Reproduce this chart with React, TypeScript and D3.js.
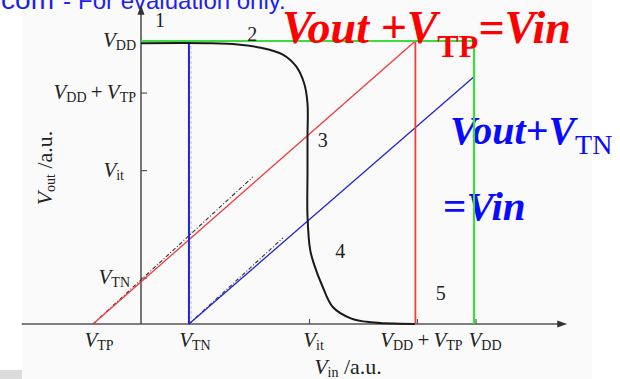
import React from 'react';
import * as d3 from 'd3';

// CMOS inverter voltage transfer characteristic (arbitrary units)
const W = 620;
const H = 379;

const VDD = 5;
const VTN = 0.72;
const VTP = -0.72;
const VIT_IN = 2.5;
const VDD_PLUS_VTP_IN = 4.12;

// Axis tick labels (markup: V italic, {..} subscript)
const xTickLabels = ['V{TP}', 'V{TN}', 'V{it}', 'V{DD}\u2009+\u2009V{TP}', 'V{DD}'];
const xTickValues = [VTP, VTN, VIT_IN, VDD_PLUS_VTP_IN, VDD];

const yTickLabels = ['V{DD}', 'V{DD}\u2009+\u2009V{TP}', 'V{it}', 'V{TN}'];
const yTickValues = [VDD, 4.08, 2.71, 0.81];

// Vout(Vin) transfer curve
const curveVin = [0, 1.0, 1.45, 1.8, 2.13, 2.33, 2.45, 2.5, 2.5, 2.5, 2.5, 2.54, 2.6, 2.72, 2.88, 3.15, 3.45, 4.11];
const curveVout = [4.96, 4.96, 4.94, 4.88, 4.76, 4.55, 4.25, 3.9, 3.3, 2.7, 1.9, 1.31, 1.05, 0.68, 0.3, 0.1, 0.03, 0];

// Vout + VTP = Vin  (PMOS saturation boundary)
const pLineVin = [VTP, VDD_PLUS_VTP_IN];
const pLineVout = [0, VDD];
// Vout + VTN = Vin  (NMOS saturation boundary)
const nLineVin = [VTN, VDD];
const nLineVout = [0, 4.37];
// dashed companions of the boundaries
const pGuideVin = [VTP, 1.68];
const pGuideVout = [0, 2.6];
const nGuideVin = [VTN, 2.13];
const nGuideVout = [0, 1.52];

// Operating region numbers
const regionLabels = ['1', '2', '3', '4', '5'];
const regionVin = [0.285, 1.67, 2.73, 2.99, 4.5];
const regionVout = [5.25, 5.0, 3.13, 1.17, 0.42];

const SERIF = '"Liberation Serif", "Times New Roman", Times, serif';
const SANS = '"Liberation Sans", Arial, Helvetica, sans-serif';

// right edge of each y tick label
const yLabelRight = [136, 136, 124, 130];

type Seg = { t: string; sub: boolean; italic: boolean };

function parseLabel(s: string): Seg[] {
  const segs: Seg[] = [];
  const re = /\{([^}]*)\}|([^{]+)/g;
  let m: RegExpExecArray | null;
  while ((m = re.exec(s))) {
    if (m[1] !== undefined) {
      segs.push({ t: m[1], sub: true, italic: false });
    } else {
      const runs = m[2].match(/V+|[^V]+/g) || [];
      runs.forEach((r) => segs.push({ t: r, sub: false, italic: r[0] === 'V' }));
    }
  }
  return segs;
}

function MathLabel({
  text,
  x,
  y,
  size = 21,
  subSize = 14,
  anchor = 'start',
  transform,
}: {
  text: string;
  x: number;
  y: number;
  size?: number;
  subSize?: number;
  anchor?: string;
  transform?: string;
}) {
  const segs = parseLabel(text);
  let shift = 0;
  return (
    <text
      x={x}
      y={y}
      textAnchor={anchor as any}
      fontFamily={SERIF}
      fontSize={size}
      fill="#222"
      transform={transform}
    >
      {segs.map((s, i) => {
        const target = s.sub ? 3 : 0;
        const dy = target - shift;
        shift = target;
        return (
          <tspan
            key={i}
            dy={dy}
            fontSize={s.sub ? subSize : size}
            fontStyle={s.italic ? 'italic' : 'normal'}
          >
            {s.t}
          </tspan>
        );
      })}
    </text>
  );
}

export default function App() {
  const x = d3.scaleLinear().domain([0, VDD]).range([141, 474]);
  const y = d3.scaleLinear().domain([0, VDD]).range([324, 41]);

  const xAxisFrom = -1.79;
  const xAxisTo = 6.4;
  const yAxisTo = 5.64;

  const line = d3
    .line<[number, number]>()
    .x((d) => x(d[0]))
    .y((d) => y(d[1]));
  const smooth = d3
    .line<[number, number]>()
    .x((d) => x(d[0]))
    .y((d) => y(d[1]))
    .curve(d3.curveCatmullRom.alpha(0.5));

  const zip = (a: number[], b: number[]) => a.map((v, i) => [v, b[i]] as [number, number]);

  const axisColor = '#555';
  const green = '#3bdc3b';
  const blue = '#2323d2';
  const red = '#ee3b3b';

  const x0 = x(0);
  const y0 = y(0);
  const yTop = y(yAxisTo);
  const xRight = x(xAxisTo);

  return (
    <svg
      width={W}
      height={H}
      viewBox={`0 0 ${W} ${H}`}
      style={{ position: 'absolute', left: 0, top: 0, display: 'block', background: '#fff' }}
    >
      <rect x={22} y={0} width={570} height={H} fill="#fafafa" />
      <rect x={0} y={370} width={22} height={9} fill="#dcdcdc" />

      {/* watermark */}
      <text x={1} y={9} fontFamily={SANS} fontSize={25} fill="#1e1ef0" textLength={53} lengthAdjust="spacingAndGlyphs">
        com
      </text>
      <text x={63} y={9} fontFamily={SANS} fontSize={24} fill="#1e1ef0">
        -
      </text>
      <text x={78} y={9} fontFamily={SANS} fontSize={24} fill="#1e1ef0">
        For evaluation only.
      </text>

      {/* NMOS boundary formula */}
      <text x={450} y={144} fontFamily={SERIF} fontSize={40} fontWeight="bold" fill="#0a0aff">
        <tspan fontStyle="italic">Vout+V</tspan>
        <tspan dy={10} fontSize={28} fontWeight="normal">
          TN
        </tspan>
      </text>
      <text x={443} y={220} fontFamily={SERIF} fontSize={41} fontWeight="bold" fill="#0a0aff">
        <tspan>=</tspan>
        <tspan fontStyle="italic">Vin</tspan>
      </text>

      {/* axes */}
      <line x1={x(xAxisFrom)} y1={y0} x2={xRight - 6} y2={y0} stroke={axisColor} strokeWidth={1.6} />
      <path d={`M${xRight},${y0} L${xRight - 10},${y0 - 3.5} L${xRight - 10},${y0 + 3.5} Z`} fill="#333" />
      <line x1={x0} y1={y0} x2={x0} y2={yTop + 6} stroke={axisColor} strokeWidth={1.6} />
      <path d={`M${x0},${yTop} L${x0 - 3.5},${yTop + 10} L${x0 + 3.5},${yTop + 10} Z`} fill="#333" />

      {yTickValues.slice(1).map((v, i) => (
        <line key={'yt' + i} x1={x0} x2={x0 + 6} y1={y(v)} y2={y(v)} stroke={axisColor} strokeWidth={1.2} />
      ))}
      {xTickValues.slice(2).map((v, i) => (
        <line key={'xt' + i} x1={x(v) + 2} x2={x(v) + 2} y1={y0} y2={y0 - 5} stroke={axisColor} strokeWidth={1.2} />
      ))}

      {xTickLabels.map((t, i) => (
        <MathLabel
          key={'xl' + i}
          text={t}
          x={x(xTickValues[i]) + (i === xTickLabels.length - 1 ? 11 : 6)}
          y={347}
          anchor="middle"
        />
      ))}
      {yTickLabels.map((t, i) => (
        <MathLabel key={'yl' + i} text={t} x={yLabelRight[i]} y={y(yTickValues[i]) + 6} anchor="end" />
      ))}

      <MathLabel text="V{out} /a.u." x={0} y={0} size={22} anchor="middle" transform="translate(52,168) rotate(-90)" />
      <MathLabel text="V{in} /a.u." x={348} y={374} size={22} anchor="middle" />

      {/* dashed companions */}
      <line x1={x(VTN) + 2} x2={x(VTN) + 2} y1={y0} y2={y(VDD)} stroke="#bbb" strokeWidth={1} strokeDasharray="3,2" />
      <path d={line(zip(pGuideVin, pGuideVout)) || ''} fill="none" stroke="#333" strokeWidth={1.1} strokeDasharray="4,2,1,2" />
      <path d={line(zip(nGuideVin, nGuideVout)) || ''} fill="none" stroke="#333" strokeWidth={1.1} strokeDasharray="4,2,1,2" />

      {/* boundary lines */}
      <path d={line(zip(pLineVin, pLineVout)) || ''} fill="none" stroke={red} strokeWidth={1.3} />
      <path d={line(zip(nLineVin, nLineVout)) || ''} fill="none" stroke={blue} strokeWidth={1.3} />
      <line x1={x(VTN)} x2={x(VTN)} y1={y0} y2={y(VDD)} stroke={blue} strokeWidth={2} />
      <line x1={x(VDD_PLUS_VTP_IN)} x2={x(VDD_PLUS_VTP_IN)} y1={y0} y2={y(VDD)} stroke={red} strokeWidth={1.8} />

      {/* transfer curve */}
      <path d={smooth(zip(curveVin, curveVout)) || ''} fill="none" stroke="#1a1a1a" strokeWidth={2} />

      <line x1={x0} x2={x(VDD)} y1={y(VDD)} y2={y(VDD)} stroke={green} strokeWidth={2.2} />
      <line x1={x(VDD)} x2={x(VDD)} y1={y(VDD)} y2={y0} stroke={green} strokeWidth={2.2} />

      {regionLabels.map((t, i) => (
        <text
          key={'r' + i}
          x={x(regionVin[i])}
          y={y(regionVout[i])}
          textAnchor="middle"
          fontFamily={SERIF}
          fontSize={20}
          fill="#222"
        >
          {t}
        </text>
      ))}

      {/* PMOS boundary formula */}
      <text x={282} y={43} fontFamily={SERIF} fontSize={46} fontWeight="bold" fill="#ff0000">
        <tspan fontStyle="italic">Vout +V</tspan>
        <tspan dy={14} fontSize={32}>
          TP
        </tspan>
        <tspan dy={-14} fontStyle="italic">
          =Vin
        </tspan>
      </text>
    </svg>
  );
}
